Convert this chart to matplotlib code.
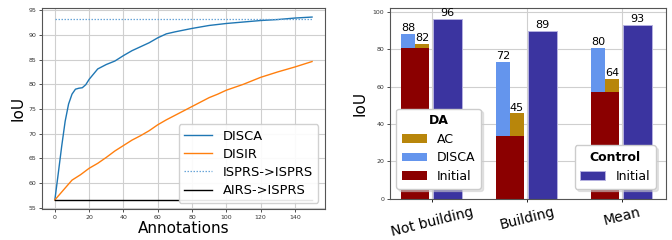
"""
IoU vs. annotations (left) and per-class IoU bars (right).
"""
import numpy as np
import matplotlib
matplotlib.use('Agg')
import matplotlib.pyplot as plt

# Left panel: IoU as a function of the number of annotations
disca_x = [0, 2, 4, 6, 8, 10, 12, 14, 16, 18, 20, 25, 30, 35, 40, 45, 50,
           55, 60, 65, 70, 80, 90, 100, 110, 120, 130, 140, 150]
disca_iou = [56.6, 62.0, 67.5, 72.5, 76.0, 78.0, 79.0, 79.2, 79.3, 79.9, 81.0,
             83.1, 84.0, 84.7, 85.8, 86.8, 87.6, 88.4, 89.4, 90.2, 90.6, 91.3,
             91.9, 92.3, 92.6, 92.9, 93.1, 93.4, 93.6]
disir_x = [0, 5, 10, 15, 20, 25, 30, 35, 40, 45, 50, 55, 60, 65, 70, 75, 80,
           85, 90, 95, 100, 110, 120, 130, 140, 150]
disir_iou = [56.6, 58.6, 60.6, 61.7, 63.0, 64.0, 65.2, 66.5, 67.6, 68.7, 69.6,
             70.6, 71.8, 72.8, 73.7, 74.6, 75.5, 76.4, 77.3, 78.0, 78.8, 80.0,
             81.4, 82.5, 83.5, 84.6]
ref_x = [0, 150]
isprs_isprs = 93.3
airs_isprs = 56.6

# Right panel: IoU per class
categories = ['Not building', 'Building', 'Mean']
da_initial = [80.6, 33.6, 57.3]
da_disca = [88.3, 72.9, 80.5]
da_ac = [82.9, 45.6, 64.2]
control_initial = [96.3, 89.9, 93.1]

fig = plt.figure(figsize=(6.72, 2.4), dpi=100)
ax1 = fig.add_axes([0.0625, 0.129, 0.421, 0.838])
ax2 = fig.add_axes([0.580, 0.172, 0.411, 0.793])

for ax in (ax1, ax2):
    ax.grid(True, color='#cfcfcf', linewidth=0.8)
    ax.set_axisbelow(True)
    for s in ax.spines.values():
        s.set_color('#555555')
        s.set_linewidth(0.8)
    ax.tick_params(labelsize=4.5, length=2.5, width=0.6, pad=1.5,
                   colors='#333333')

# --- left
ax1.plot(disca_x, disca_iou, color='tab:blue', lw=1.0, label='DISCA')
ax1.plot(disir_x, disir_iou, color='tab:orange', lw=1.0, label='DISIR')
ax1.plot(ref_x, [isprs_isprs] * 2, color='#6aa6d8', lw=0.9,
         ls=(0, (1.2, 1.2)), label='ISPRS->ISPRS')
ax1.plot(ref_x, [airs_isprs] * 2, color='black', lw=1.0, label='AIRS->ISPRS')
ax1.set_yticks(np.arange(55, 96, 5))
ax1.set_xticks(np.arange(0, 141, 20))
ax1.set_xlabel('Annotations', fontsize=11, labelpad=1)
ax1.set_ylabel('IoU', fontsize=11, labelpad=2)
ax1.legend(loc='lower right', fontsize=9.4, framealpha=0.9,
           handlelength=2.2, borderpad=0.4, labelspacing=0.4)

# --- right
x = np.arange(len(categories))
w_da, w_ctrl = 0.145, 0.30
off_disca, off_ac, off_ctrl = -0.255, -0.11, 0.16
ctrl_color = '#3b34a0'

b_disca = ax2.bar(x + off_disca, np.array(da_disca) - np.array(da_initial),
                  w_da, bottom=da_initial, color='#6495ED', label='DISCA')
b_ac = ax2.bar(x + off_ac, np.array(da_ac) - np.array(da_initial), w_da,
               bottom=da_initial, color='#B8860B', label='AC')
b_init1 = ax2.bar(x + off_disca, da_initial, w_da, color='#8B0000',
                  label='Initial')
ax2.bar(x + off_ac, da_initial, w_da, color='#8B0000')
b_ctrl = ax2.bar(x + off_ctrl, control_initial, w_ctrl, color=ctrl_color,
                 edgecolor='#b4b0e0', linewidth=0.7, label='Initial')

for xi, v in zip(x + off_disca, da_disca):
    ax2.text(xi, v + 0.5, str(int(v)), ha='center', va='bottom', fontsize=8)
for xi, v in zip(x + off_ac, da_ac):
    ax2.text(xi, v + 0.5, str(int(v)), ha='center', va='bottom', fontsize=8)
for xi, v in zip(x + off_ctrl, control_initial):
    ax2.text(xi, v + 0.5, str(int(v)), ha='center', va='bottom', fontsize=8)

ax2.set_xlim(-0.45, 2.46)
ax2.set_ylim(0, 101.8)
ax2.set_xticks(x)
ax2.set_xticklabels(categories, rotation=14)
ax2.tick_params(axis='x', pad=2, labelsize=10, colors='black')
ax2.set_ylabel('IoU', fontsize=11, labelpad=4)

shadow = {'color': '0.8', 'alpha': 0.5}
title_font = {'weight': 'bold', 'size': 9}
leg_da = ax2.legend([b_ac, b_disca, b_init1], ['AC', 'DISCA', 'Initial'],
                    title='DA', loc='lower left', bbox_to_anchor=(0.0, 0.02),
                    fontsize=9, title_fontproperties=title_font,
                    shadow=shadow, framealpha=1.0, handlelength=2.0,
                    borderpad=0.45, labelspacing=0.45)
ax2.add_artist(leg_da)
ax2.legend([b_ctrl], ['Initial'], title='Control', loc='lower right',
           bbox_to_anchor=(0.985, 0.02), fontsize=9,
           title_fontproperties=title_font,
           shadow=shadow, framealpha=1.0, handlelength=2.0, borderpad=0.45)

fig.savefig('out.png', dpi=100)
